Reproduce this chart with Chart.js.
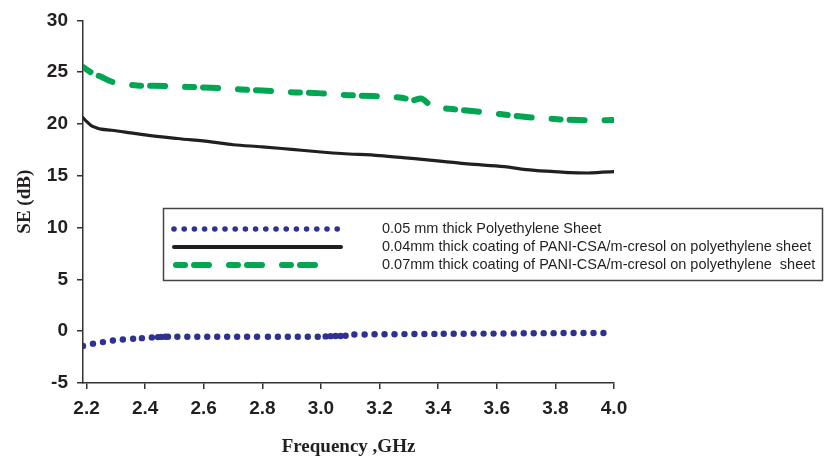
<!DOCTYPE html>
<html>
<head>
<meta charset="utf-8">
<script src="https://cdn.jsdelivr.net/npm/chart.js@4.4.0/dist/chart.umd.min.js"></script>
<style>
html, body { margin: 0; padding: 0; background: #fff; }
#contenedor { width: 826px; height: 461px; }
</style>
</head>
<body>
<div id="contenedor"><canvas id="graficoSE" width="826" height="461"></canvas></div>
<script>
// Valores
const ticksFrecuencia = [2.2, 2.4, 2.6, 2.8, 3.0, 3.2, 3.4, 3.6, 3.8, 4.0];

// 0.05 mm polietileno (puntos azules)
const frecPolietileno = [2.188, 2.222, 2.256, 2.290, 2.324, 2.359, 2.389, 2.423, 2.444, 2.455, 2.469, 2.478,
    2.510, 2.544, 2.578, 2.612, 2.646, 2.680, 2.714, 2.748, 2.782, 2.819, 2.853, 2.887, 2.921, 2.955, 2.989,
    3.016, 3.033, 3.050, 3.067, 3.084, 3.114, 3.149, 3.183, 3.217, 3.251, 3.285, 3.319, 3.353, 3.387, 3.419,
    3.453, 3.487, 3.521, 3.555, 3.589, 3.623, 3.658, 3.692, 3.726, 3.760, 3.794, 3.828, 3.862, 3.896, 3.930, 3.964];
const sePolietileno = [-1.43, -1.20, -1.05, -0.90, -0.80, -0.73, -0.67, -0.60, -0.57, -0.55, -0.54, -0.54,
    -0.54, -0.54, -0.54, -0.54, -0.54, -0.54, -0.54, -0.54, -0.54, -0.54, -0.54, -0.54, -0.54, -0.54, -0.54,
    -0.50, -0.48, -0.47, -0.46, -0.44, -0.32, -0.32, -0.30, -0.30, -0.29, -0.28, -0.27, -0.27, -0.26, -0.25,
    -0.24, -0.24, -0.23, -0.23, -0.23, -0.22, -0.21, -0.20, -0.20, -0.19, -0.19, -0.18, -0.18, -0.18, -0.17, -0.17];

// 0.04 mm PANI-CSA (línea negra)
const frecPani004 = [2.188, 2.200, 2.216, 2.235, 2.250, 2.285, 2.350, 2.400, 2.510, 2.625, 2.700, 2.800,
    2.900, 3.000, 3.070, 3.200, 3.300, 3.415, 3.500, 3.626, 3.700, 3.796, 3.850, 3.910, 3.960, 4.000];
const sePani004 = [20.60, 20.25, 19.85, 19.62, 19.50, 19.40, 19.15, 18.95, 18.60, 18.27, 18.00, 17.80,
    17.55, 17.30, 17.15, 16.95, 16.70, 16.40, 16.15, 15.88, 15.60, 15.40, 15.30, 15.27, 15.35, 15.40];

// 0.07 mm PANI-CSA (línea verde discontinua)
const frecPani007 = [2.188, 2.216, 2.250, 2.285, 2.320, 2.387, 2.430, 2.500, 2.546, 2.625, 2.728, 2.800,
    2.898, 2.990, 3.080, 3.180, 3.250, 3.290, 3.307, 3.341, 3.376, 3.398, 3.455, 3.569, 3.660, 3.750,
    3.842, 3.944, 3.995];
const sePani007 = [25.50, 24.97, 24.55, 24.10, 23.90, 23.70, 23.70, 23.62, 23.58, 23.50, 23.33, 23.23,
    23.07, 22.98, 22.80, 22.70, 22.60, 22.45, 22.25, 22.47, 21.74, 21.60, 21.42, 21.10, 20.79, 20.57,
    20.41, 20.35, 20.38];

const etiquetas = [
    '0.05 mm thick Polyethylene Sheet',
    '0.04mm thick coating of PANI-CSA/m-cresol on polyethylene sheet',
    '0.07mm thick coating of PANI-CSA/m-cresol on polyethylene  sheet'
];

const azul = '#2e3192';
const negro = '#231f20';
const verde = '#00a651';
const guionVerde = [9, 9, 15, 20];

function aPuntos(xs, ys) {
    return xs.map((x, i) => ({ x: x, y: ys[i] }));
}

// Leyenda con recuadro dentro del área del gráfico
const leyendaCaja = {
    id: 'leyendaCaja',
    afterDraw(chart) {
        const ctx = chart.ctx;
        ctx.save();
        ctx.fillStyle = '#fff';
        ctx.fillRect(163, 208, 660, 73);
        ctx.strokeStyle = '#444';
        ctx.lineWidth = 1.5;
        ctx.strokeRect(163.5, 208.5, 659, 72);

        const filas = [229, 247, 265];
        // puntos azules
        ctx.fillStyle = azul;
        for (let i = 0; i < 17; i++) {
            ctx.beginPath();
            ctx.arc(174 + i * 10.2, filas[0], 2.8, 0, Math.PI * 2);
            ctx.fill();
        }
        // línea negra
        ctx.strokeStyle = negro;
        ctx.lineWidth = 4;
        ctx.lineCap = 'round';
        ctx.beginPath();
        ctx.moveTo(174, filas[1]);
        ctx.lineTo(341, filas[1]);
        ctx.stroke();
        // línea verde
        ctx.strokeStyle = verde;
        ctx.lineWidth = 6;
        ctx.setLineDash(guionVerde);
        ctx.beginPath();
        ctx.moveTo(176, filas[2]);
        ctx.lineTo(322, filas[2]);
        ctx.stroke();
        ctx.setLineDash([]);

        ctx.fillStyle = '#231f20';
        ctx.font = '14.5px "Liberation Sans", Arial, sans-serif';
        ctx.textBaseline = 'middle';
        ctx.textAlign = 'left';
        etiquetas.forEach((t, i) => ctx.fillText(t, 382, filas[i]));
        ctx.restore();
    }
};

const fuenteEjes = { family: '"Liberation Sans", Arial, sans-serif', size: 19, weight: 'bold' };
const fuenteTitulos = { family: '"Liberation Serif", "Times New Roman", serif', size: 19, weight: 'bold' };

const grafico = new Chart(document.getElementById('graficoSE').getContext('2d'), {
    type: 'line',
    data: {
        datasets: [
            {
                label: etiquetas[0],
                data: aPuntos(frecPolietileno, sePolietileno),
                showLine: false,
                pointRadius: 3.2,
                pointBackgroundColor: azul,
                pointBorderWidth: 0,
                borderColor: azul
            },
            {
                label: etiquetas[1],
                data: aPuntos(frecPani004, sePani004),
                borderColor: negro,
                borderWidth: 3.2,
                pointRadius: 0,
                cubicInterpolationMode: 'monotone',
                borderCapStyle: 'round'
            },
            {
                label: etiquetas[2],
                data: aPuntos(frecPani007, sePani007),
                borderColor: verde,
                borderWidth: 6,
                borderDash: guionVerde,
                borderCapStyle: 'round',
                pointRadius: 0,
                cubicInterpolationMode: 'monotone'
            }
        ]
    },
    options: {
        responsive: false,
        animation: false,
        devicePixelRatio: 1,
        layout: { padding: { top: 15, right: 212, left: 0, bottom: 0 } },
        plugins: {
            legend: { display: false },
            tooltip: { enabled: false }
        },
        scales: {
            x: {
                type: 'linear',
                min: 2.188,
                max: 4.0,
                afterBuildTicks: (eje) => { eje.ticks = ticksFrecuencia.map(v => ({ value: v })); },
                afterFit: (eje) => { eje.height = 78; },
                border: { color: '#333', width: 1.5 },
                grid: { drawOnChartArea: false, drawTicks: true, tickLength: 6, color: '#333', lineWidth: 1.5 },
                ticks: {
                    autoSkip: false,
                    maxRotation: 0,
                    padding: 8,
                    color: '#231f20',
                    font: fuenteEjes,
                    callback: (v) => Number(v).toFixed(1)
                },
                title: {
                    display: true,
                    text: 'Frequency ,GHz',
                    color: '#231f20',
                    font: fuenteTitulos,
                    padding: { top: 0, bottom: 3 }
                }
            },
            y: {
                min: -5,
                max: 30,
                afterFit: (eje) => { eje.width = 83; },
                border: { color: '#333', width: 1.5 },
                grid: { drawOnChartArea: false, drawTicks: true, tickLength: 6, color: '#333', lineWidth: 1.5 },
                ticks: {
                    stepSize: 5,
                    padding: 9,
                    color: '#231f20',
                    font: fuenteEjes
                },
                title: {
                    display: true,
                    text: 'SE (dB)',
                    color: '#231f20',
                    font: fuenteTitulos,
                    padding: { top: 14, bottom: 0 }
                }
            }
        }
    },
    plugins: [leyendaCaja]
});
</script>
</body>
</html>
